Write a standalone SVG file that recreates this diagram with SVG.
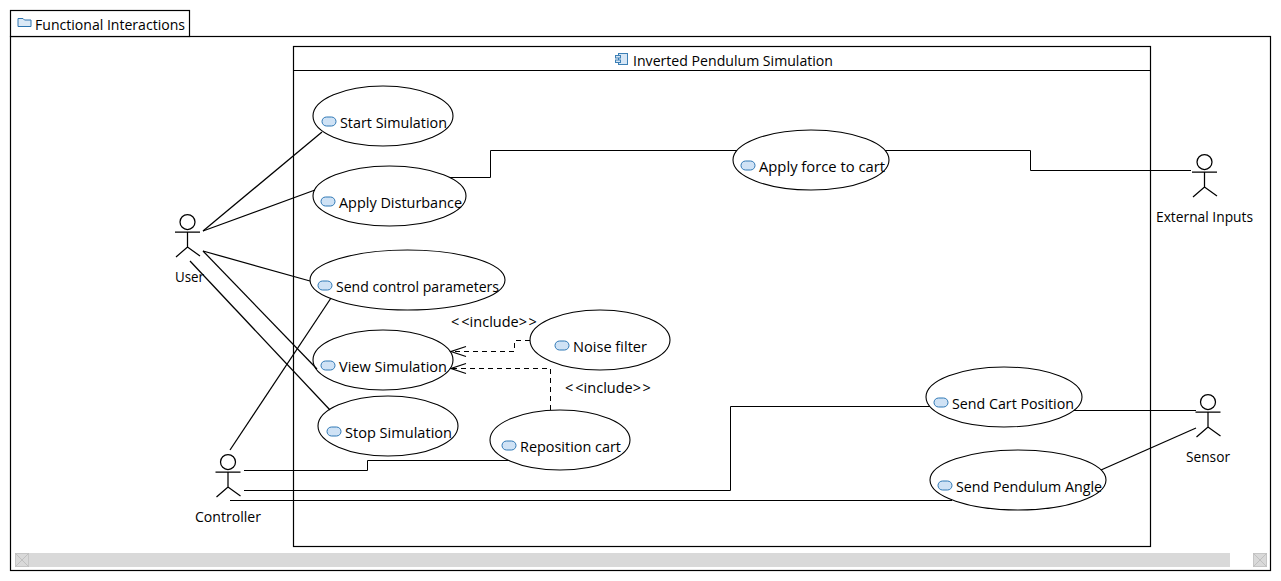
<svg xmlns="http://www.w3.org/2000/svg" width="1281" height="581" viewBox="0 0 1281 581">
<style>
text{font-family:"Open Sans","Noto Sans","Liberation Sans",sans-serif;font-size:14.5px;fill:#000}
.frame{fill:#fff;stroke:#000;stroke-width:1.2}
.uc{fill:#fff;stroke:#000;stroke-width:1.1}
.ln{fill:none;stroke:#000;stroke-width:1}
.dg{fill:none;stroke:#000;stroke-width:1.25}
.dash{fill:none;stroke:#000;stroke-width:1;stroke-dasharray:5 4}
.ic{fill:#cfe2f5;stroke:#2f78b5;stroke-width:1}
.act{fill:none;stroke:#000;stroke-width:1.25}
.sb{fill:#d9d9d9}
.x{fill:#d9d9d9;stroke:#c6c6c6;stroke-width:1}
</style>
<defs>
<g id="actor"><circle cx="0" cy="0" r="7.500"/><path d="M-12.500 10H12.500M0 10V25M-11.500 35L0 25L12.500 34"/></g>
<rect id="ucIcon" x="-7" y="-4.500" width="14" height="9" rx="4.500" ry="4.500"/>
<marker id="open" markerUnits="userSpaceOnUse" markerWidth="18" markerHeight="14" refX="16" refY="7" orient="auto"><path d="M1 2L16 7L1 12" fill="none" stroke="#000" stroke-width="1.2"/></marker>
</defs>
<rect width="1281" height="581" fill="#fff"/>
<g id="package">
<rect class="frame" x="10.500" y="36.500" width="1260" height="534"/>
<rect class="frame" x="10.500" y="10.500" width="179" height="26"/>
<path d="M18 26.500V18.500H23L24.500 20H31V26.500Z" fill="#dbe9f6" stroke="#2e75b0" stroke-width="1"/>
<text x="35" y="30" textLength="150" lengthAdjust="spacingAndGlyphs">Functional Interactions</text>
</g>
<g id="scrollbar">
<rect class="sb" x="15" y="553" width="1215" height="14"/>
<rect class="x" x="15.500" y="553.500" width="13" height="13"/><path d="M15 553L29 567M29 553L15 567" stroke="#c0c0c0" fill="none"/>
<rect class="x" x="1253.500" y="553.500" width="13" height="13"/><path d="M1253 553L1267 567M1267 553L1253 567" stroke="#c0c0c0" fill="none"/>
</g>
<g id="system">
<rect class="frame" x="293.500" y="46.500" width="857" height="500"/>
<path d="M293.500 70.500H1150.500" stroke="#000" stroke-width="1"/>
<g fill="#d6e6f5" stroke="#3c7fb5" stroke-width="1"><rect x="618.500" y="53.500" width="9" height="11"/><rect x="615.500" y="55.500" width="5" height="2.500"/><rect x="615.500" y="60" width="5" height="2.500"/></g>
<text x="633" y="66" textLength="200" lengthAdjust="spacingAndGlyphs">Inverted Pendulum Simulation</text>
</g>
<g id="uc-start"><ellipse class="uc" cx="383" cy="116" rx="70" ry="30"/><use href="#ucIcon" class="ic" x="329" y="121.500"/><text x="340" y="128" textLength="107" lengthAdjust="spacingAndGlyphs">Start Simulation</text></g>
<g id="uc-disturbance"><ellipse class="uc" cx="389.500" cy="196" rx="76.500" ry="30"/><use href="#ucIcon" class="ic" x="328" y="201.500"/><text x="339" y="208" textLength="123" lengthAdjust="spacingAndGlyphs">Apply Disturbance</text></g>
<g id="uc-params"><ellipse class="uc" cx="407.500" cy="280" rx="97.500" ry="30"/><use href="#ucIcon" class="ic" x="325" y="285.500"/><text x="336" y="292" textLength="163" lengthAdjust="spacingAndGlyphs">Send control parameters</text></g>
<g id="uc-view"><ellipse class="uc" cx="383" cy="360" rx="70" ry="30"/><use href="#ucIcon" class="ic" x="328" y="365.500"/><text x="339" y="372" textLength="108" lengthAdjust="spacingAndGlyphs">View Simulation</text></g>
<g id="uc-stop"><ellipse class="uc" cx="388" cy="426" rx="70" ry="30"/><use href="#ucIcon" class="ic" x="334" y="431.500"/><text x="345" y="438" textLength="107" lengthAdjust="spacingAndGlyphs">Stop Simulation</text></g>
<g id="uc-noise"><ellipse class="uc" cx="600" cy="340" rx="70" ry="30"/><use href="#ucIcon" class="ic" x="562" y="345.500"/><text x="573" y="352" textLength="74" lengthAdjust="spacingAndGlyphs">Noise filter</text></g>
<g id="uc-reposition"><ellipse class="uc" cx="560" cy="440" rx="70" ry="30"/><use href="#ucIcon" class="ic" x="509" y="445.500"/><text x="520" y="452" textLength="101" lengthAdjust="spacingAndGlyphs">Reposition cart</text></g>
<g id="uc-force"><ellipse class="uc" cx="811" cy="160" rx="78" ry="30"/><use href="#ucIcon" class="ic" x="748" y="165.500"/><text x="759" y="172" textLength="126" lengthAdjust="spacingAndGlyphs">Apply force to cart</text></g>
<g id="uc-cart"><ellipse class="uc" cx="1004" cy="397" rx="78" ry="30"/><use href="#ucIcon" class="ic" x="941" y="402.500"/><text x="952" y="409" textLength="122" lengthAdjust="spacingAndGlyphs">Send Cart Position</text></g>
<g id="uc-angle"><ellipse class="uc" cx="1018" cy="480" rx="88" ry="30"/><use href="#ucIcon" class="ic" x="945" y="485.500"/><text x="956" y="492" textLength="146" lengthAdjust="spacingAndGlyphs">Send Pendulum Angle</text></g>
<g id="actor-user"><use href="#actor" class="act" x="187.500" y="222"/><text x="175" y="282" textLength="29" lengthAdjust="spacingAndGlyphs">User</text></g>
<g id="actor-controller"><use href="#actor" class="act" x="228" y="462"/><text x="195" y="522" textLength="66" lengthAdjust="spacingAndGlyphs">Controller</text></g>
<g id="actor-external"><use href="#actor" class="act" x="1204.500" y="162"/><text x="1156" y="222" textLength="97" lengthAdjust="spacingAndGlyphs">External Inputs</text></g>
<g id="actor-sensor"><use href="#actor" class="act" x="1208" y="402"/><text x="1186" y="462" textLength="44" lengthAdjust="spacingAndGlyphs">Sensor</text></g>
<g id="connectors">
<path class="dg" d="M203 231L322 132"/>
<path class="dg" d="M203 231L315 190"/>
<path class="dg" d="M203 251L310 281"/>
<path class="dg" d="M203 251L317 369"/>
<path class="dg" d="M190 261L330 410"/>
<path class="dg" d="M230 450L331 298"/>
<path class="ln" d="M244 470.500H367.500V460.500H509"/>
<path class="ln" d="M244 490.500H730.500V406.500H930"/>
<path class="ln" d="M230 500.500H952"/>
<path class="ln" d="M450 177.500H490.500V150.500H737"/>
<path class="ln" d="M885 150.500H1030.500V170.500H1191"/>
<path class="ln" d="M1074 410.500H1196"/>
<path class="dg" d="M1101 470L1196 428"/>
<path class="dash" d="M530 340.500H514.500V351.500H451" marker-end="url(#open)"/>
<path class="dash" d="M550.500 410V368.500H451" marker-end="url(#open)"/>
<text x="451" y="327" dx="0 2 0 0 0 0 0 0 0 0 1.500">&lt;&lt;include&gt;&gt;</text>
<text x="565" y="393" dx="0 2 0 0 0 0 0 0 0 0 1.500">&lt;&lt;include&gt;&gt;</text>
</g>
</svg>
